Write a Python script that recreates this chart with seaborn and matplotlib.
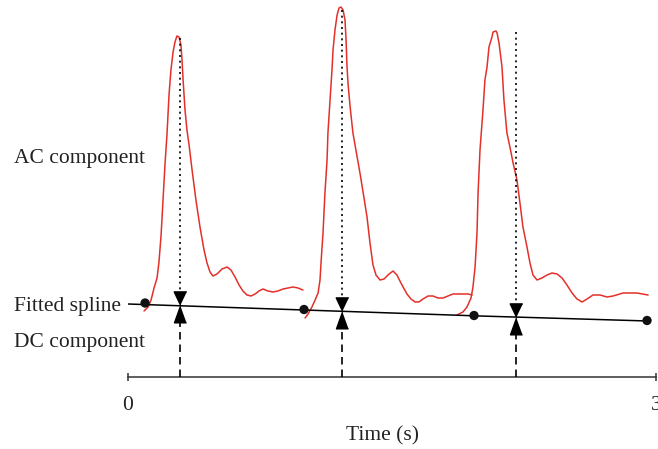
import numpy as np
import pandas as pd
import matplotlib
matplotlib.use("Agg")
import matplotlib.pyplot as plt
import seaborn as sns

# ---- data (time in s, amplitude in arbitrary units) ----
p1_t = [0.091, 0.114, 0.131, 0.148, 0.165, 0.176, 0.188, 0.199, 0.210, 0.222, 0.233, 0.244,
        0.256, 0.267, 0.278, 0.290, 0.301, 0.307, 0.313, 0.324, 0.335, 0.347, 0.364, 0.386,
        0.409, 0.432, 0.449, 0.466, 0.483, 0.506, 0.534, 0.563, 0.585, 0.608, 0.631, 0.653,
        0.676, 0.699, 0.722, 0.744, 0.767, 0.795, 0.824, 0.852, 0.881, 0.909, 0.938, 0.966,
        0.994]
p1_a = [66, 70, 77, 89, 99, 115, 142, 177, 212, 244, 282, 307,
        325, 335, 341, 340, 332, 317, 297, 267, 247, 232, 207, 177,
        150, 127, 114, 105, 101, 103, 108, 110, 107, 100, 92, 86,
        82, 81, 83, 86, 88, 86, 85, 86, 88, 89, 90, 89,
        87]
p2_t = [1.006, 1.023, 1.045, 1.063, 1.080, 1.091, 1.097, 1.108, 1.119, 1.131, 1.136, 1.148,
        1.159, 1.165, 1.176, 1.188, 1.199, 1.210, 1.222, 1.233, 1.239, 1.244, 1.250, 1.261,
        1.278, 1.295, 1.318, 1.341, 1.358, 1.375, 1.392, 1.409, 1.432, 1.455, 1.477, 1.506,
        1.528, 1.545, 1.563, 1.585, 1.608, 1.631, 1.653, 1.676, 1.705, 1.733, 1.761, 1.790,
        1.818, 1.847, 1.875, 1.903, 1.932, 1.955]
p2_a = [59, 63, 70, 77, 84, 97, 115, 144, 184, 217, 244, 277,
        307, 327, 347, 362, 369, 370, 367, 357, 337, 312, 294, 272,
        244, 227, 204, 179, 160, 134, 112, 102, 97, 98, 102, 106,
        102, 96, 90, 83, 78, 75, 75, 78, 81, 81, 79, 79,
        81, 83, 83, 83, 83, 82]
p3_t = [1.869, 1.903, 1.926, 1.949, 1.960, 1.972, 1.983, 1.989, 2.000, 2.017, 2.028, 2.040,
        2.051, 2.068, 2.074, 2.091, 2.097, 2.108, 2.125, 2.136, 2.153, 2.170, 2.188, 2.210,
        2.227, 2.244, 2.267, 2.284, 2.301, 2.324, 2.352, 2.381, 2.409, 2.438, 2.466, 2.494,
        2.523, 2.551, 2.580, 2.608, 2.642, 2.682, 2.722, 2.756, 2.813, 2.892, 2.955]
p3_a = [62, 65, 70, 79, 90, 110, 144, 184, 227, 267, 297, 310,
        330, 340, 345, 346, 344, 334, 310, 277, 244, 230, 214, 197,
        174, 150, 130, 114, 102, 97, 99, 102, 104, 103, 99, 92,
        84, 78, 75, 78, 82, 82, 80, 81, 84, 84, 82]

spline_t = [0.0, 1.0, 2.0, 2.955]
spline_a = [73, 67, 61, 56]
knot_t = [0.097, 1.0, 1.966, 2.949]
knot_a = [74, 67.5, 61.5, 56.5]

peak_t = [0.295, 1.216, 2.205]
peak_top = [339, 367, 345]

x_ticks = [0, 3]
x_tick_labels = ["0", "3"]
x_label = "Time (s)"
labels = ["AC component", "Fitted spline", "DC component"]

# ---- figure ----
sns.set_theme(style="white")
plt.rcParams['font.family'] = ['Liberation Serif', 'DejaVu Serif']

W, H = 658, 449
fig = plt.figure(figsize=(W / 100, H / 100), dpi=100)
ax = fig.add_axes([128 / W, 72 / H, (656 - 128) / W, 377 / H])
ax.set_xlim(0, 3)
ax.set_ylim(0, 377)

red = "#e4302a"
for t, a in [(p1_t, p1_a), (p2_t, p2_a), (p3_t, p3_a)]:
    df = pd.DataFrame({"t": t, "a": a})
    sns.lineplot(data=df, x="t", y="a", ax=ax, color=red, lw=1.1, sort=False,
                 estimator=None, zorder=2, solid_joinstyle="round")

sdf = pd.DataFrame({"t": spline_t, "a": spline_a})
sns.lineplot(data=sdf, x="t", y="a", ax=ax, color="black", lw=1.1, zorder=3)
kdf = pd.DataFrame({"t": knot_t, "a": knot_a})
sns.scatterplot(data=kdf, x="t", y="a", ax=ax, color="#111111", s=45,
                edgecolor="none", zorder=4)

for pt, top in zip(peak_t, peak_top):
    base = float(np.interp(pt, spline_t, spline_a))
    ax.plot([pt, pt], [top, base + 12], color="black", lw=1.2, ls=(0, (1.2, 2.2)), zorder=3)
    ax.plot([pt], [base + 7.5], marker=[(0, -1), (-0.95, 1), (0.95, 1)], ms=9.5,
            color="black", mec="black", zorder=5)
    ax.plot([pt, pt], [0, base - 10], color="black", lw=1.2, ls=(0, (4.5, 3)), zorder=3)
    ax.plot([pt], [base - 8.5], marker=[(0, 1), (-0.72, -1), (0.72, -1)], ms=12,
            color="black", mec="black", zorder=5)

for s in ["top", "right", "left"]:
    ax.spines[s].set_visible(False)
ax.spines["bottom"].set_color("#333333")
ax.spines["bottom"].set_linewidth(1.1)
ax.set_yticks([])
ax.set_ylabel("")
ax.set_xticks(x_ticks)
ax.set_xticklabels(x_tick_labels)
ax.tick_params(axis="x", direction="inout", length=6, width=1.1, color="#333333",
               labelsize=15.5, pad=11, bottom=True, labelcolor="#222222")
ax.set_xlabel(x_label, fontsize=15.5, color="#222222")
ax.xaxis.set_label_coords((383 - 128) / (656 - 128), -0.13)
ax.patch.set_alpha(0)

for lab, y in zip(labels, [158, 306, 343]):
    fig.text(14 / W, 1 - y / H, lab, fontsize=15.5, color="#222222", va="center", ha="left")

fig.savefig("out.png", dpi=100)
